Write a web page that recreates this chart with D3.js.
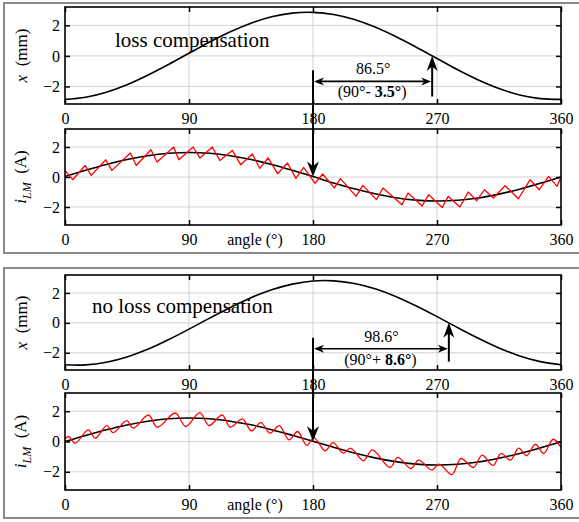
<!DOCTYPE html>
<html>
<head>
<meta charset="utf-8">
<script src="https://cdn.jsdelivr.net/npm/d3@7"></script>
<style>
  html, body { margin: 0; padding: 0; background: #fff; }
  svg { display: block; }
</style>
</head>
<body>
<svg id="chart" width="579" height="522"></svg>
<script>
// ---- data -------------------------------------------------------------
const angleTicks = [0, 90, 180, 270, 360];
const valueTicks = [-2, 0, 2];
const gridAngles = [90, 180, 270];

// sample angles (deg) for the smooth curves
const sampleAngles = [0, 15, 30, 45, 60, 75, 90, 105, 120, 135, 150, 165, 180,
  195, 210, 225, 240, 255, 270, 285, 300, 315, 330, 345, 360];

// displacement x (mm)
const xLoss = [-2.85, -2.71, -2.38, -1.89, -1.27, -0.57, 0.17, 0.91, 1.58, 2.14, 2.56, 2.80, 2.85,
  2.71, 2.38, 1.89, 1.27, 0.57, -0.17, -0.91, -1.58, -2.14, -2.56, -2.80, -2.85];
const xNoLoss = [-2.80, -2.81, -2.63, -2.28, -1.77, -1.13, -0.42, 0.32, 1.03, 1.68, 2.21, 2.59, 2.80,
  2.81, 2.63, 2.28, 1.77, 1.13, 0.42, -0.32, -1.03, -1.68, -2.21, -2.59, -2.80];

// fundamental of the magnetising current i_LM (A)
const iLoss = [0.04, 0.45, 0.84, 1.17, 1.42, 1.58, 1.63, 1.58, 1.42, 1.17, 0.84, 0.45, 0.03,
  -0.40, -0.79, -1.12, -1.38, -1.54, -1.60, -1.55, -1.40, -1.14, -0.81, -0.42, 0.00];
const iNoLoss = [0.00, 0.40, 0.77, 1.09, 1.34, 1.50, 1.55, 1.50, 1.34, 1.10, 0.78, 0.41, 0.02,
  -0.38, -0.76, -1.08, -1.33, -1.49, -1.55, -1.50, -1.35, -1.10, -0.79, -0.42, -0.02];

// measured current with ripple: [angle, value]
const rippleLoss = [[0,0.44],[5.6,-0.18],[14.6,0.77],[19,0.11],[29.6,1.15],[34,0.44],[47.4,1.6],
  [51.7,0.77],[62.4,1.82],[66.8,1.0],[78.9,2.0],[82.6,1.15],[93,2.0],[97.9,1.27],[106.9,2.0],
  [112.4,1.1],[121.5,1.77],[127.5,0.82],[136,1.53],[141.4,0.57],[147.4,1.27],[154.3,0.22],
  [161.5,0.93],[167.6,-0.09],[173.2,0.64],[181.5,-0.42],[187,0.2],[195.5,-0.73],[199.9,-0.11],
  [211.3,-1.29],[216.2,-0.56],[226,-1.51],[230.8,-0.73],[244.6,-1.85],[249,-1.07],[259.2,-1.93],
  [264,-1.18],[273.8,-2.03],[278.1,-1.29],[286.6,-2.0],[292.7,-1.0],[298.8,-1.58],[304.4,-0.85],
  [310.9,-1.4],[319.4,-0.58],[329.1,-1.45],[337.6,-0.18],[344.2,-0.85],[351,0.04],[357.1,-0.62],
  [360,0.0]];
const rippleNoLoss = [[0,0.17],[2.4,0.33],[7.3,-0.11],[17,0.77],[21.9,0.22],[30.4,1.05],[34.8,0.59],
  [44.9,1.38],[49.3,0.88],[60.7,1.75],[66.8,0.94],[80.2,1.88],[87.5,0.99],[97.9,1.91],[104.5,1.05],
  [114.2,1.75],[119.8,0.94],[128.8,1.49],[135.3,0.7],[142.1,1.25],[148.9,0.55],[155.4,1.05],
  [162.7,0.11],[168.8,0.66],[175.6,-0.26],[180.5,0.26],[188.9,-0.61],[194.5,-0.07],[202.2,-0.77],
  [207,-0.44],[216.8,-1.27],[222.8,-0.55],[236.1,-1.71],[241.4,-1.05],[251.1,-1.78],[256.6,-1.23],
  [266.4,-1.88],[271.2,-1.49],[280.9,-2.19],[287.4,-1.12],[296.6,-1.71],[302.7,-0.9],[310.7,-1.58],
  [316.5,-0.79],[323.3,-1.23],[329.3,-0.44],[334.9,-0.94],[341.4,-0.18],[347.5,-0.79],[354.3,0.15],
  [360,-0.39]];

// phase between current zero crossing (180°) and displacement zero crossing
const leadLoss = 86.5;
const leadNoLoss = 98.6;

// ---- layout -----------------------------------------------------------
const FONT = "'Liberation Serif', 'Times New Roman', serif";
const svg = d3.select("#chart").style("font-family", FONT);
const left = 65, right = 561;
const xScale = d3.scaleLinear().domain([0, 360]).range([left, right]);

const panels = [
  { frameTop: 3, frameBot: 253, xTop: 7, xBot: 104, iTop: 129, iBot: 225,
    title: "loss compensation", titleX: 115, titleY: 47,
    disp: xLoss, cur: iLoss, ripple: rippleLoss, smoothRipple: false,
    lead: leadLoss, sign: "- ",
    barY: -1.67, stemTop: -0.94, upBottom: -2.66 },
  { frameTop: 268, frameBot: 518, xTop: 275, xBot: 370, iTop: 393, iBot: 490,
    title: "no loss compensation", titleX: 92, titleY: 313,
    disp: xNoLoss, cur: iNoLoss, ripple: rippleNoLoss, smoothRipple: true,
    lead: leadNoLoss, sign: "+ ",
    barY: -1.73, stemTop: -1.0, upBottom: -2.59 }
];

const gridColor = "#d2d2d2";
const intFmt = d3.format("d");

function serif(sel) { return sel.style("font-family", FONT); }

function arrowHead(g, tipX, tipY, dx, dy, len, wid) {
  // dx,dy: unit direction of travel
  const px = -dy, py = dx;
  const bx = tipX - dx * len, by = tipY - dy * len;
  const nx = tipX - dx * len * 0.7, ny = tipY - dy * len * 0.7;
  const p = d3.path();
  p.moveTo(tipX, tipY);
  p.lineTo(bx + px * wid / 2, by + py * wid / 2);
  p.lineTo(nx, ny);
  p.lineTo(bx - px * wid / 2, by - py * wid / 2);
  p.closePath();
  g.append("path").attr("d", p.toString()).attr("fill", "#000").attr("stroke", "none");
}

function drawPlot(g, yScale, top, bot, opts) {
  // grid
  g.selectAll(null).data(gridAngles).join("line")
    .attr("x1", d => xScale(d)).attr("x2", d => xScale(d))
    .attr("y1", top).attr("y2", bot)
    .attr("stroke", gridColor).attr("stroke-width", 1);
  g.selectAll(null).data(valueTicks).join("line")
    .attr("x1", left).attr("x2", right)
    .attr("y1", d => yScale(d)).attr("y2", d => yScale(d))
    .attr("stroke", gridColor).attr("stroke-width", 1);

  // inward ticks on all four sides
  g.append("g").attr("transform", `translate(0,${bot})`)
    .call(d3.axisBottom(xScale).tickValues(angleTicks).tickFormat(intFmt).tickSize(-5).tickPadding(9));
  g.append("g").attr("transform", `translate(0,${top})`)
    .call(d3.axisTop(xScale).tickValues(angleTicks).tickSize(-5).tickFormat(""));
  g.append("g").attr("transform", `translate(${left},0)`)
    .call(d3.axisLeft(yScale).tickValues(valueTicks).tickFormat(intFmt).tickSize(-5).tickPadding(5));
  g.append("g").attr("transform", `translate(${right},0)`)
    .call(d3.axisRight(yScale).tickValues(valueTicks).tickSize(-5).tickFormat(""));
  g.selectAll(".domain").remove();
  g.selectAll(".tick line").attr("stroke", "#000").attr("stroke-width", 1.5);
  serif(g.selectAll(".tick text")).attr("fill", "#000").style("font-size", "16px");

  // curves
  opts.lines.forEach(l => {
    g.append("path").datum(l.data)
      .attr("fill", "none").attr("stroke", l.color).attr("stroke-width", l.width)
      .attr("stroke-linejoin", "round")
      .attr("d", d3.line().x(d => xScale(d[0])).y(d => yScale(d[1])).curve(l.curve));
  });

  // frame
  g.append("rect").attr("x", left).attr("y", top)
    .attr("width", right - left).attr("height", bot - top)
    .attr("fill", "none").attr("stroke", "#000").attr("stroke-width", 1.6);
}

panels.forEach(p => {
  const g = svg.append("g");

  // grey group frame (runs off the right edge)
  g.append("rect").attr("x", 4).attr("y", p.frameTop)
    .attr("width", 600).attr("height", p.frameBot - p.frameTop)
    .attr("fill", "none").attr("stroke", "#8a8a8a").attr("stroke-width", 2);

  const yX = d3.scaleLinear().domain([-3.15, 3.2]).range([p.xBot, p.xTop]);
  const yI = d3.scaleLinear().domain([-3.2, 3.2]).range([p.iBot, p.iTop]);

  drawPlot(g.append("g"), yX, p.xTop, p.xBot, {
    lines: [{ data: sampleAngles.map((a, k) => [a, p.disp[k]]), color: "#000", width: 1.6,
      curve: d3.curveCatmullRom }]
  });
  drawPlot(g.append("g"), yI, p.iTop, p.iBot, {
    lines: [
      { data: sampleAngles.map((a, k) => [a, p.cur[k]]), color: "#000", width: 1.6,
        curve: d3.curveCatmullRom },
      { data: p.ripple, color: "#ff0000", width: 1.3,
        curve: p.smoothRipple ? d3.curveMonotoneX : d3.curveLinear }
    ]
  });

  // title inside displacement plot
  serif(g.append("text")).attr("x", p.titleX).attr("y", p.titleY)
    .style("font-size", "21px").text(p.title);

  // y axis labels
  const lx = serif(g.append("text"))
    .attr("transform", `translate(27,${(p.xTop + p.xBot) / 2}) rotate(-90)`)
    .attr("text-anchor", "middle").style("font-size", "17px");
  lx.append("tspan").style("font-style", "italic").text("x");
  lx.append("tspan").text("\u2002(mm)");

  const li = serif(g.append("text"))
    .attr("transform", `translate(26,${(p.iTop + p.iBot) / 2}) rotate(-90)`)
    .attr("text-anchor", "middle").style("font-size", "17px");
  li.append("tspan").style("font-style", "italic").text("i");
  li.append("tspan").style("font-style", "italic").style("font-size", "12px").attr("dy", 5).text("LM");
  li.append("tspan").attr("dy", -5).text("\u2002(A)");

  // x axis title of current plot
  serif(g.append("text")).attr("x", 255).attr("y", p.iBot + 20)
    .attr("text-anchor", "middle").style("font-size", "16px").text("angle (°)");

  // phase annotation
  const x180 = xScale(180);
  const xZero = xScale(180 + p.lead);
  const barY = yX(p.barY);
  const ann = g.append("g");

  // stem from displacement plot down to the current zero crossing
  const tipY = yI(p.cur[sampleAngles.indexOf(180)]);
  ann.append("line").attr("x1", x180).attr("x2", x180)
    .attr("y1", yX(p.stemTop)).attr("y2", tipY - 8)
    .attr("stroke", "#000").attr("stroke-width", 2);
  arrowHead(ann, x180, tipY, 0, 1, 15, 12);

  // double-headed span arrow
  ann.append("line").attr("x1", x180 + 4).attr("x2", xZero - 4)
    .attr("y1", barY).attr("y2", barY)
    .attr("stroke", "#000").attr("stroke-width", 1.6);
  arrowHead(ann, x180 + 1, barY, -1, 0, 10, 8);
  arrowHead(ann, xZero - 1, barY, 1, 0, 10, 8);

  // upward arrow to displacement zero crossing
  const upTip = yX(0);
  ann.append("line").attr("x1", xZero).attr("x2", xZero)
    .attr("y1", yX(p.upBottom)).attr("y2", upTip + 8)
    .attr("stroke", "#000").attr("stroke-width", 2);
  arrowHead(ann, xZero, upTip, 0, -1, 15, 11);

  // labels
  const midX = (x180 + xZero) / 2 + 0.5;
  serif(ann.append("text")).attr("x", midX).attr("y", barY - 7)
    .attr("text-anchor", "middle").style("font-size", "16px").text(`${p.lead}°`);
  const dev = d3.format(".1f")(Math.abs(p.lead - 90));
  const t2 = serif(ann.append("text")).attr("x", midX - 1).attr("y", barY + 16)
    .attr("text-anchor", "middle").style("font-size", "16px");
  t2.append("tspan").text("(90°" + p.sign);
  t2.append("tspan").style("font-weight", "bold").text(dev + "°");
  t2.append("tspan").text(")");
});
</script>
</body>
</html>
